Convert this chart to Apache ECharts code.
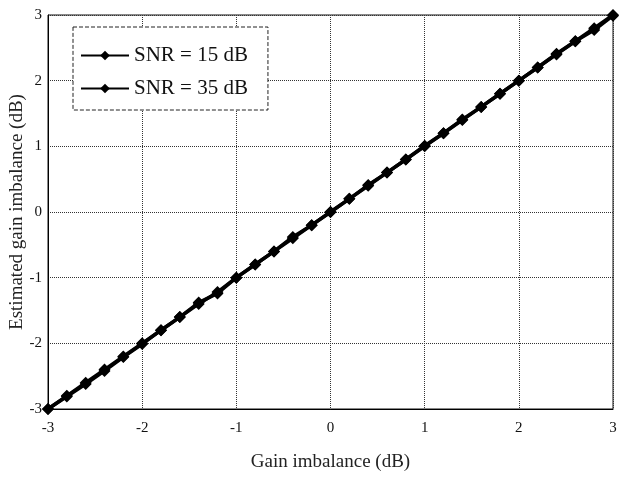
<!DOCTYPE html>
<html>
<head>
<meta charset="utf-8">
<script src="https://cdn.jsdelivr.net/npm/echarts@6/dist/echarts.min.js"></script>
<style>html,body{margin:0;padding:0;background:#fff}#c{width:623px;height:479px}</style>
</head>
<body>
<div id="c"></div>
<script>
var xValues = [-3,-2.8,-2.6,-2.4,-2.2,-2,-1.8,-1.6,-1.4,-1.2,-1,-0.8,-0.6,-0.4,-0.2,0,0.2,0.4,0.6,0.8,1,1.2,1.4,1.6,1.8,2,2.2,2.4,2.6,2.8,3];
var snr15 = [-3,-2.81,-2.62,-2.42,-2.21,-2.01,-1.8,-1.6,-1.38,-1.24,-1,-0.8,-0.6,-0.38,-0.2,0,0.2,0.41,0.6,0.8,1.01,1.2,1.41,1.6,1.8,2,2.2,2.41,2.6,2.77,2.99];
var snr35 = [-3,-2.8,-2.6,-2.4,-2.2,-2,-1.8,-1.6,-1.4,-1.22,-1,-0.8,-0.6,-0.4,-0.2,0,0.2,0.4,0.6,0.8,1,1.2,1.4,1.6,1.8,2,2.2,2.4,2.6,2.8,3];
var seriesNames = ['SNR = 15 dB','SNR = 35 dB'];

var font = 'Liberation Serif, DejaVu Serif, serif';
function pairs(xs, ys){ return xs.map(function(x,i){ return [x, ys[i]]; }); }
var chart = echarts.init(document.getElementById('c'));
var mkSeries = function(name, ys){
  return {
    name: name, type: 'line', data: pairs(xValues, ys),
    symbol: 'diamond', symbolSize: 12,
    lineStyle: {color: '#000', width: 3.5},
    itemStyle: {color: '#000'},
    animation: false
  };
};
chart.setOption({
  backgroundColor: '#fff',
  grid: {left: 48, right: 10, top: 15, bottom: 70, outerBoundsMode: 'none', containLabel: false,
         show: true, borderColor: '#111', borderWidth: 1, backgroundColor: 'transparent'},
  legend: {
    left: 73, top: 27, orient: 'vertical',
    data: seriesNames,
    itemWidth: 48, itemHeight: 12, itemGap: 12,
    padding: [18, 20, 11, 7],
    borderColor: '#222', borderWidth: 1, borderType: 'dashed',
    backgroundColor: '#fff',
    textStyle: {fontFamily: font, fontSize: 21, color: '#111', lineHeight: 20}
  },
  xAxis: {
    type: 'value', min: -3, max: 3, interval: 1,
    name: 'Gain imbalance (dB)', nameLocation: 'middle', nameGap: 44,
    nameTextStyle: {fontFamily: font, fontSize: 19, color: '#222'},
    axisLine: {show: true, onZero: false, lineStyle: {color: '#000', width: 1}},
    axisTick: {show: false},
    axisLabel: {fontFamily: font, fontSize: 15, color: '#111', margin: 12},
    splitLine: {show: true, lineStyle: {color: '#333', type: 'dotted', width: 1}}
  },
  yAxis: {
    type: 'value', min: -3, max: 3, interval: 1,
    name: 'Estimated gain imbalance (dB)', nameLocation: 'middle', nameGap: 21,
    nameMoveOverlap: false,
    nameTextStyle: {fontFamily: font, fontSize: 19, color: '#222'},
    axisLine: {show: true, onZero: false, lineStyle: {color: '#000', width: 1}},
    axisTick: {show: false},
    axisLabel: {fontFamily: font, fontSize: 15, color: '#111', margin: 6},
    splitLine: {show: true, lineStyle: {color: '#333', type: 'dotted', width: 1}}
  },
  series: [mkSeries(seriesNames[0], snr15), mkSeries(seriesNames[1], snr35)]
});
</script>
</body>
</html>
